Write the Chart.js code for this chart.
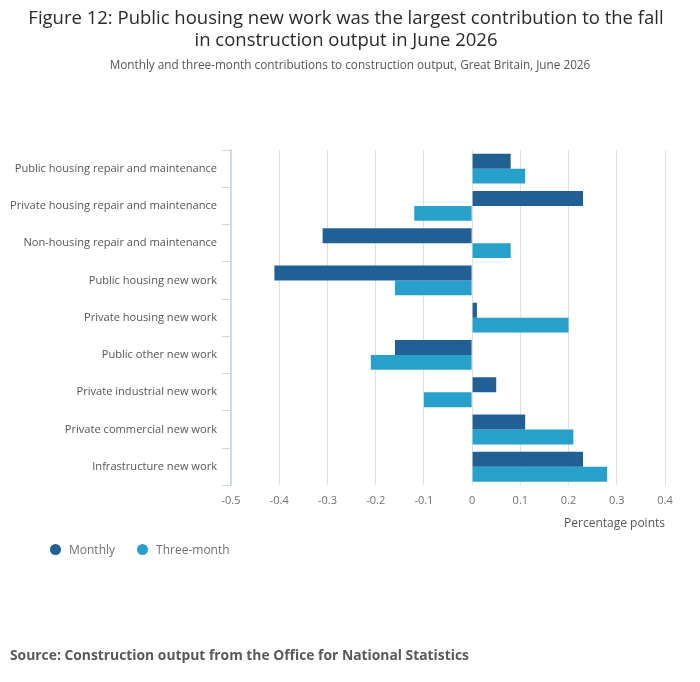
<!DOCTYPE html>
<html>
<head>
<meta charset="utf-8">
<script src="https://cdn.jsdelivr.net/npm/chart.js@4.4.1/dist/chart.umd.min.js"></script>
<style>
    body { margin: 0; background: #fff; font-family: "Open Sans", sans-serif; }
    #wrap { position: relative; width: 700px; height: 682px; overflow: hidden; }
    #title { position: absolute; top: 6px; left: -4px; width: 700px; text-align: center; font-size: 18.5px; line-height: 22px; color: #2a2a2a; }
    #subtitle { position: absolute; top: 56px; left: 0; width: 700px; text-align: center; font-size: 11.75px; color: #555; }
    #chartBox { position: absolute; top: 0; left: 0; width: 700px; height: 682px; }
    #legend { position: absolute; top: 541px; left: 50px; font-size: 12px; color: #707070; }
    #legend span.item { display: inline-block; margin-right: 22px; }
    #legend span.dot { display: inline-block; width: 11px; height: 11px; border-radius: 50%; vertical-align: -1px; margin-right: 8px; }
    #source { position: absolute; top: 645px; left: 10px; font-size: 13.85px; font-weight: bold; color: #595959; }
</style>
</head>
<body>
<div id="wrap">
    <div id="chartBox"><canvas id="chart"></canvas></div>
    <div id="title">Figure 12: Public housing new work was the largest contribution to the fall<br>in construction output in June 2026</div>
    <div id="subtitle">Monthly and three-month contributions to construction output, Great Britain, June 2026</div>
    <div id="legend"></div>
    <div id="source">Source: Construction output from the Office for National Statistics</div>
</div>
<script>
const categories = [
    'Public housing repair and maintenance',
    'Private housing repair and maintenance',
    'Non-housing repair and maintenance',
    'Public housing new work',
    'Private housing new work',
    'Public other new work',
    'Private industrial new work',
    'Private commercial new work',
    'Infrastructure new work'
];
const monthly = [0.08, 0.23, -0.31, -0.41, 0.01, -0.16, 0.05, 0.11, 0.23];
const threeMonth = [0.11, -0.12, 0.08, -0.16, 0.20, -0.21, -0.10, 0.21, 0.28];
const seriesNames = ['Monthly', 'Three-month'];
const xTicks = [-0.5, -0.4, -0.3, -0.2, -0.1, 0, 0.1, 0.2, 0.3, 0.4];

const colours = ['#206095', '#27a0cc'];

// Build the chart
const ctx = document.getElementById('chart').getContext('2d');
const chart = new Chart(ctx, {
    type: 'bar',
    data: {
        labels: categories,
        datasets: [
            { label: seriesNames[0], data: monthly, backgroundColor: colours[0] },
            { label: seriesNames[1], data: threeMonth, backgroundColor: colours[1] }
        ]
    },
    options: {
        indexAxis: 'y',
        responsive: true,
        maintainAspectRatio: false,
        animation: false,
        categoryPercentage: 0.8,
        barPercentage: 1.0,
        layout: { padding: { top: 150, right: 35, bottom: 146, left: 0 } },
        plugins: {
            legend: { display: false },
            tooltip: { enabled: false }
        },
        scales: {
            x: {
                min: xTicks[0],
                max: xTicks[xTicks.length - 1],
                afterBuildTicks: function(scale) {
                    scale.ticks = xTicks.map(v => ({ value: v }));
                },
                grid: { color: '#e0e0e0', drawTicks: false },
                border: { display: false },
                ticks: {
                    padding: 9,
                    color: '#707070',
                    font: { family: 'Open Sans', size: 11 },
                    callback: v => String(Math.round(v * 10) / 10)
                },
                title: {
                    display: true,
                    text: 'Percentage points',
                    align: 'end',
                    color: '#555',
                    font: { family: 'Open Sans', size: 12 },
                    padding: { top: 0, bottom: 5 }
                }
            },
            y: {
                afterFit: function(scale) { scale.width = 231; },
                grid: {
                    offset: true,
                    drawOnChartArea: false,
                    tickLength: 9,
                    color: '#cdd5e4'
                },
                border: { color: '#cdd5e4', width: 1.5 },
                ticks: {
                    padding: 5,
                    color: '#555',
                    font: { family: 'Open Sans', size: 11.1 }
                }
            }
        }
    }
});

// Legend
const legend = document.getElementById('legend');
seriesNames.forEach((name, i) => {
    legend.insertAdjacentHTML('beforeend',
        `<span class="item"><span class="dot" style="background:${colours[i]}"></span>${name}</span>`);
});
</script>
</body>
</html>
